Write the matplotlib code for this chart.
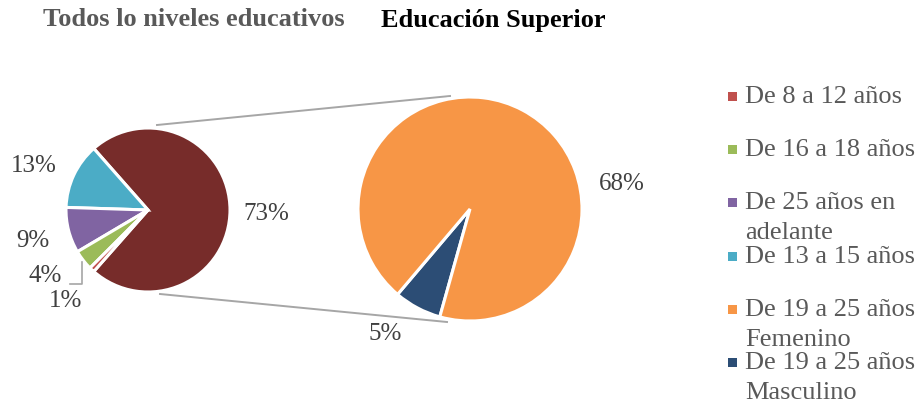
import matplotlib
matplotlib.use("Agg")
import matplotlib.pyplot as plt
from matplotlib.patches import Rectangle

# Left pie: all education levels (the "other" wedge is Educación Superior)
left_labels = ["De 13 a 15 años", "De 25 años en adelante", "De 16 a 18 años", "De 8 a 12 años"]
left_values = [13, 9, 4, 1]
# Right pie: breakdown of Educación Superior
right_labels = ["De 19 a 25 años Femenino", "De 19 a 25 años Masculino"]
right_values = [68, 5]

titles = ["Todos lo niveles educativos", "Educación Superior"]

colors = {
    "De 8 a 12 años": "#C0504D",
    "De 16 a 18 años": "#9BBB59",
    "De 25 años en adelante": "#8064A2",
    "De 13 a 15 años": "#4BACC6",
    "De 19 a 25 años Femenino": "#F79646",
    "De 19 a 25 años Masculino": "#2C4D75",
}
other_color = "#772C2A"

legend_order = ["De 8 a 12 años", "De 16 a 18 años", "De 25 años en adelante",
                "De 13 a 15 años", "De 19 a 25 años Femenino", "De 19 a 25 años Masculino"]
legend_lines = {
    "De 25 años en adelante": ["De 25 años en", "adelante"],
    "De 19 a 25 años Femenino": ["De 19 a 25 años", "Femenino"],
    "De 19 a 25 años Masculino": ["De 19 a 25 años", "Masculino"],
}

plt.rcParams["font.family"] = ["Liberation Serif", "DejaVu Serif"]

W, H = 920, 406
fig = plt.figure(figsize=(W / 100, H / 100), dpi=100)
ax = fig.add_axes([0, 0, 1, 1])
ax.set_aspect("equal")


def py(y):
    return H - y


wedge_style = dict(edgecolor="white", linewidth=2.2)

# Left pie
other_total = sum(right_values)
lvals = [other_total] + left_values
lcols = [other_color] + [colors[c] for c in left_labels]
total = sum(lvals)
start_left = -other_total / total * 360 / 2
ax.pie(lvals, colors=lcols, startangle=start_left, counterclock=True,
       center=(148, py(211)), radius=82, wedgeprops=wedge_style, frame=True)

# Right pie
rvals = [right_values[1], right_values[0]]
rcols = [colors[right_labels[1]], colors[right_labels[0]]]
ax.pie(rvals, colors=rcols, startangle=229.7, counterclock=True,
       center=(470, py(210)), radius=112, wedgeprops=wedge_style, frame=True)
ax.set_xlim(0, W)
ax.set_ylim(0, H)
ax.axis("off")

# Connector lines between the two pies
line_kw = dict(color="#A6A6A6", linewidth=1.4, zorder=0)
ax.plot([157, 450], [py(126), py(97)], **line_kw)
ax.plot([160, 447], [py(295), py(323)], **line_kw)

# Data labels
label_color = "#404040"
fs_lab = 18
pct = lambda v: f"{v}%"
ax.text(266, py(214), pct(other_total), fontsize=fs_lab, color=label_color, ha="center", va="center")
left_pos = [(34, 166), (33, 241), (45, 276), (66, 301)]
for v, (x, y) in zip(left_values, left_pos):
    ax.text(x, py(y), pct(v), fontsize=fs_lab, color=label_color, ha="center", va="center")
right_pos = [(622, 184), (385, 334)]
for v, (x, y) in zip(right_values, right_pos):
    ax.text(x, py(y), pct(v), fontsize=fs_lab, color=label_color, ha="center", va="center")
# Leader line for the small 4% wedge
ax.plot([70, 82, 82], [py(285), py(285), py(263)], color="#A6A6A6", linewidth=1.2)

# Titles
ax.text(194, py(20), titles[0], fontsize=19, fontweight="bold", color="#595959",
        ha="center", va="center")
ax.text(493, py(20), titles[1], fontsize=19, fontweight="bold", color="black",
        ha="center", va="center")

# Legend
legend_y = [97, 150, 203, 257, 310, 363]
for cat, y in zip(legend_order, legend_y):
    ax.add_patch(Rectangle((728, py(y) - 4.5), 9, 9, facecolor=colors[cat], edgecolor="none"))
    lines = legend_lines.get(cat, [cat])
    for i, line in enumerate(lines):
        ax.text(745, py(y + i * 30), line, fontsize=19, color="#595959", ha="left", va="center")

fig.savefig("out.png", dpi=100)
